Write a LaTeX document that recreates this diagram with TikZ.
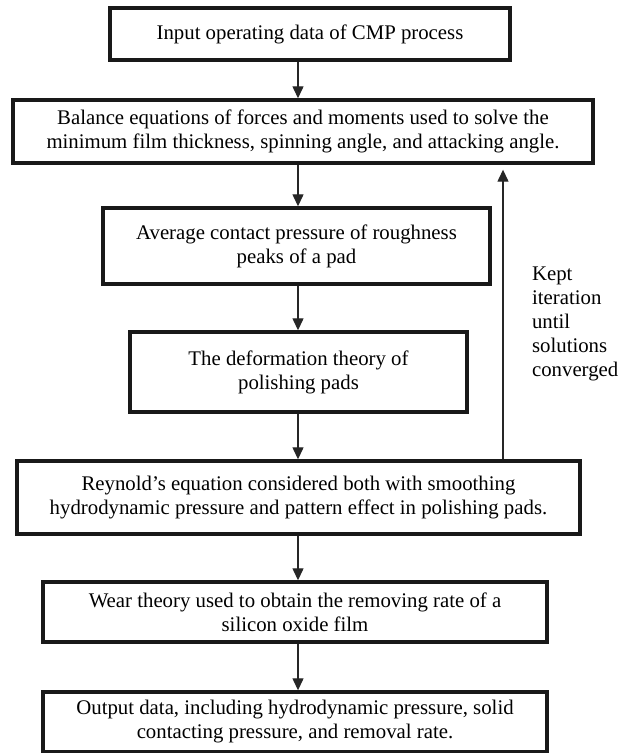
\documentclass[tikz,border=0pt]{standalone}
\usepackage{fontspec}
\setmainfont{Liberation Serif}
\usetikzlibrary{arrows.meta,positioning}

\begin{document}
\begin{tikzpicture}[x=0.5pt, y=-0.5pt,
  pbox/.style={draw=black!90, line width=1.7pt, align=center, inner sep=0pt, font=\fontsize{10.4}{12}\selectfont},
  flow/.style={-{Triangle[length=6pt,width=5.5pt]}, line width=0.65pt, black!85},
]
\useasboundingbox (0,0) rectangle (626,753);

% ─── Process boxes ───
\node[pbox, minimum width=200pt, minimum height=26pt] (input) at (310, 34) {Input operating data of CMP process};
\node[pbox, minimum width=290pt, minimum height=31.5pt] (balance) at (303, 131.5) {Balance equations of forces and moments used to solve the\\minimum film thickness, spinning angle, and attacking angle.};
\node[pbox, minimum width=193.5pt, minimum height=38pt] (average) at (296.5, 246) {Average contact pressure of roughness\\peaks of a pad};
\node[pbox, minimum width=168.5pt, minimum height=40pt] (deform) at (298.5, 372) {The deformation theory of\\polishing pads};
\node[pbox, minimum width=281.5pt, minimum height=36.5pt] (reynold) at (298.5, 497.5) {Reynold’s equation considered both with smoothing\\hydrodynamic pressure and pattern effect in polishing pads.};
\node[pbox, minimum width=252pt, minimum height=30pt] (wear) at (295, 612) {Wear theory used to obtain the removing rate of a\\silicon oxide film};
\node[pbox, minimum width=252pt, minimum height=30pt] (output) at (295, 722) {Output data, including hydrodynamic pressure, solid\\contacting pressure, and removal rate.};

% Iteration note
\node[font=\fontsize{10.4}{12}\selectfont, align=left, anchor=west] (note) at (525, 324) {Kept\\iteration\\until\\solutions\\converged};

% ─── Connectors ───
\coordinate (colx) at (298, 0);
\coordinate (fbx) at (503, 0);
\foreach \a/\b in {input/balance, balance/average, average/deform, deform/reynold, reynold/wear, wear/output} {
  \draw[flow] (\a.south -| colx) -- (\b.north -| colx);
}
\draw[flow, shorten >=2.5pt] (reynold.north -| fbx) -- (balance.south -| fbx);

\end{tikzpicture}
\end{document}
